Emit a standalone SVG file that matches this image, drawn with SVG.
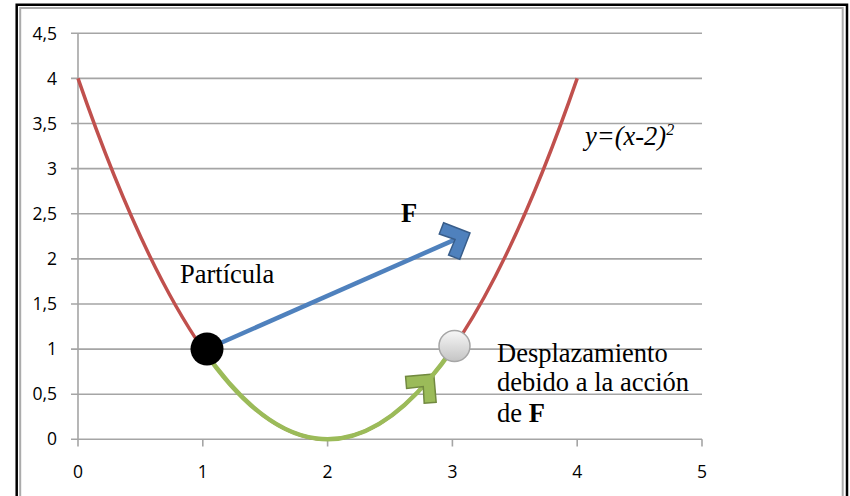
<svg xmlns="http://www.w3.org/2000/svg" xmlns:xlink="http://www.w3.org/1999/xlink" width="850" height="496" viewBox="0 0 850 496">
  <style>
    .grid { stroke: #a5a5a5; stroke-width: 1.6; fill: none; }
    .tick { font-family: "Open Sans", "Liberation Sans", sans-serif; font-size: 17.5px; fill: #000; }
    .ty { text-anchor: end; }
    .tx { text-anchor: middle; }
    .lbl { font-family: "Liberation Serif", "Times New Roman", serif; font-size: 26.5px; fill: #000; }
    .bold { font-weight: bold; }
    .curve { fill: none; stroke: #c0504d; stroke-width: 3.5; }
    .green { fill: none; stroke: #9bbb59; stroke-width: 4.5; }
    .blue { fill: none; stroke: #4f81bd; stroke-width: 4.5; }
  </style>
  <defs>
    <marker id="arrBlue" markerUnits="userSpaceOnUse" markerWidth="60" markerHeight="60" refX="-6" refY="0" orient="auto" overflow="visible">
      <path d="M0,0 L-20,-20 L-28.5,-11.5 L-16.3,0 L-28.5,11.5 L-20,20 Z" fill="#4f81bd" stroke="#385d8a" stroke-width="1.5" stroke-linejoin="miter"/>
    </marker>
    <marker id="arrGreen" markerUnits="userSpaceOnUse" markerWidth="60" markerHeight="60" refX="-6" refY="0" orient="auto" overflow="visible">
      <path d="M0,0 L-20,-20 L-28.5,-11.5 L-16.3,0 L-28.5,11.5 L-20,20 Z" fill="#9bbb59" stroke="#71893f" stroke-width="1.5" stroke-linejoin="miter"/>
    </marker>
    <linearGradient id="grayBall" x1="0" y1="0" x2="0" y2="1">
      <stop offset="0" stop-color="#f7f7f7"/>
      <stop offset="1" stop-color="#c4c4c4"/>
    </linearGradient>
  </defs>

  <rect width="850" height="496" fill="#ffffff"/>

  <g id="frame" fill="none">
    <path d="M16.7,500 V4.7 H847 V500" stroke="#000" stroke-width="2.5"/>
    <path d="M20.2,500 V8 H842.7 V500" stroke="#ababab" stroke-width="2"/>
  </g>

  <g id="grid">
    <path class="grid" d="M71,33.3 H702 M71,78.4 H702 M71,123.5 H702 M71,168.6 H702 M71,213.8 H702 M71,258.9 H702 M71,304 H702 M71,349.1 H702 M71,394.2 H702 M71,439.3 H702"/>
    <path class="grid" d="M78,33.3 V446.5 M202.8,439.3 V446.5 M327.6,439.3 V446.5 M452.4,439.3 V446.5 M577.2,439.3 V446.5 M702,439.3 V446.5"/>
  </g>

  <g id="y-labels" class="tick ty">
    <text x="57" y="40">4,5</text>
    <text x="57" y="85">4</text>
    <text x="57" y="130">3,5</text>
    <text x="57" y="175">3</text>
    <text x="57" y="220">2,5</text>
    <text x="57" y="265">2</text>
    <text x="57" y="310">1,5</text>
    <text x="57" y="355">1</text>
    <text x="57" y="400">0,5</text>
    <text x="57" y="445">0</text>
  </g>
  <g id="x-labels" class="tick tx">
    <text x="78" y="478">0</text>
    <text x="202.8" y="478">1</text>
    <text x="327.6" y="478">2</text>
    <text x="452.4" y="478">3</text>
    <text x="577.2" y="478">4</text>
    <text x="702" y="478">5</text>
  </g>

  <g id="parabola">
    <path class="curve" d="M78,78.4 Q327.6,800.2 577.2,78.4"/>
    <text class="lbl" x="585" y="145" font-size="24" font-style="italic">y=(x-2)<tspan font-size="16" dy="-10">2</tspan></text>
  </g>

  <g id="connectors">
    <path id="fuerza" class="blue" d="M207,349 L464.5,235.4" marker-end="url(#arrBlue)"/>
    <path id="desplazamiento-a" class="green" d="M202.8,349.1 Q316.4,513.3 429.9,378.65" marker-end="url(#arrGreen)"/>
    <path id="desplazamiento-b" class="green" d="M429.9,378.65 Q441.2,365.3 452.4,349.1"/>
  </g>

  <g id="particula">
    <circle cx="207" cy="349" r="16.5" fill="#000"/>
    <text class="lbl" x="180" y="283">Partícula</text>
  </g>

  <g id="posicion-final">
    <circle cx="454.5" cy="346" r="15.5" fill="url(#grayBall)" stroke="#a6a6a6" stroke-width="1.5"/>
  </g>

  <g id="label-F">
    <text class="lbl bold" x="401" y="222">F</text>
  </g>

  <g id="label-desplazamiento" class="lbl">
    <text x="497" y="362">Desplazamiento</text>
    <text x="497" y="391">debido a la acción</text>
    <text x="497" y="422">de <tspan class="bold">F</tspan></text>
  </g>
</svg>
